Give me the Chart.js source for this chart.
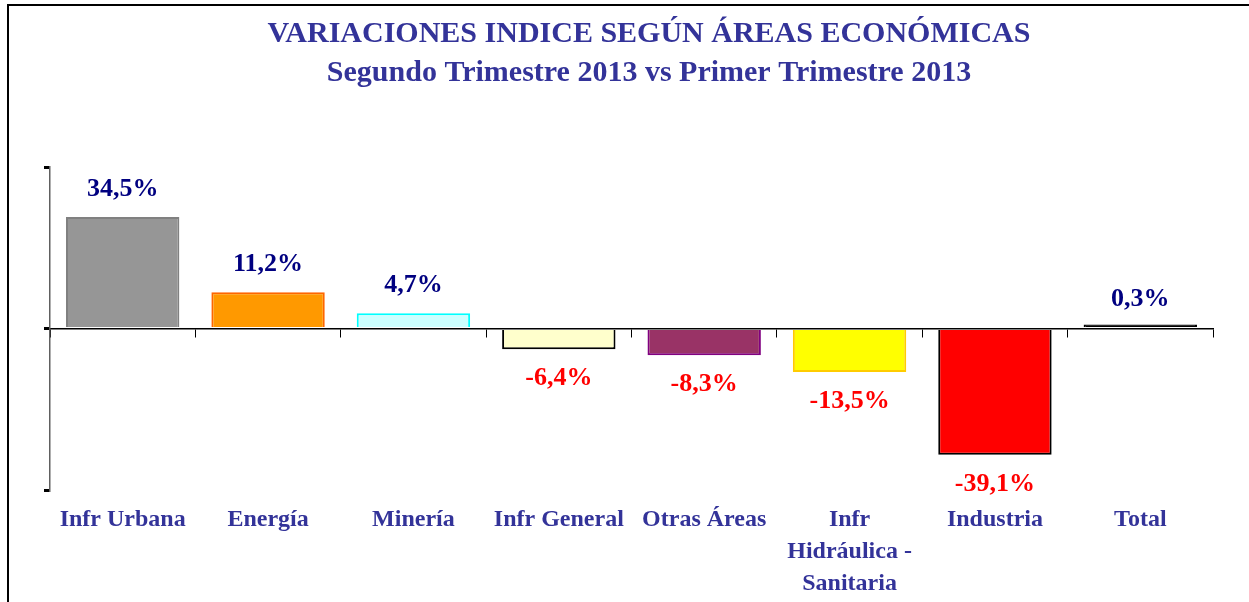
<!DOCTYPE html>
<html lang="es">
<head>
<meta charset="utf-8">
<title>Variaciones índice según áreas económicas</title>
<script src="https://cdn.jsdelivr.net/npm/chart.js@4/dist/chart.umd.min.js"></script>
<style>
  html, body { margin: 0; padding: 0; background: #fff; overflow: hidden; }
  #marco { position: absolute; left: 7px; top: 4px; width: 1400px; height: 800px;
           border-top: 2px solid #000; border-left: 2px solid #000; }
  #grafico { position: absolute; left: 0; top: 0; }
</style>
</head>
<body>
<div id="marco"></div>
<canvas id="grafico" width="1249" height="602"></canvas>
<script>
// datos del gráfico
const areas = ['Infr Urbana', 'Energía', 'Minería', 'Infr General', 'Otras Áreas',
               ['Infr', 'Hidráulica -', 'Sanitaria'], 'Industria', 'Total'];
const variaciones = [34.5, 11.2, 4.7, -6.4, -8.3, -13.5, -39.1, 0.3];
const rellenos = ['#969696', '#FF9900', '#CCFFFF', '#FFFFCC', '#993366', '#FFFF00', '#FF0000', '#000000'];
const bordes = ['#808080', '#FF6600', '#00FFFF', '#000000', '#800080', '#FFCC00', '#000000', '#000000'];
const marcasY = [-50, 0, 50];

const fuente = "'Liberation Serif', 'Times New Roman', serif";

// etiquetas de valor sobre / bajo cada barra
const etiquetasValor = {
    id: 'etiquetasValor',
    afterDatasetsDraw(chart) {
        const ctx = chart.ctx;
        const meta = chart.getDatasetMeta(0);
        const y0 = chart.scales.y.getPixelForValue(0);
        ctx.save();
        ctx.font = 'bold 26px ' + fuente;
        ctx.textAlign = 'center';
        ctx.textBaseline = 'middle';
        meta.data.forEach((barra, i) => {
            const v = variaciones[i];
            const txt = v.toFixed(1).replace('.', ',') + '%';
            const extremo = chart.scales.y.getPixelForValue(v);
            if (v >= 0) {
                ctx.fillStyle = '#000080';
                ctx.fillText(txt, barra.x, Math.min(extremo, y0) - 28);
            } else {
                ctx.fillStyle = '#FF0000';
                ctx.fillText(txt, barra.x, extremo + 29);
            }
        });
        ctx.restore();
    }
};

new Chart(document.getElementById('grafico'), {
    type: 'bar',
    data: {
        labels: areas,
        datasets: [{
            data: variaciones,
            backgroundColor: rellenos,
            borderColor: bordes,
            borderWidth: 2,
            minBarLength: 4,
            barPercentage: 0.78,
            categoryPercentage: 1
        }]
    },
    options: {
        responsive: false,
        animation: false,
        layout: { padding: { left: 49, right: 0, top: 0, bottom: 0 } },
        plugins: {
            legend: { display: false },
            tooltip: { enabled: false },
            title: {
                display: true,
                text: 'VARIACIONES INDICE SEGÚN ÁREAS ECONÓMICAS',
                color: '#333399',
                font: { family: fuente, size: 30, weight: 'bold' },
                padding: { top: 16, bottom: 3 }
            },
            subtitle: {
                display: true,
                text: 'Segundo Trimestre 2013 vs Primer Trimestre 2013',
                color: '#333399',
                font: { family: fuente, size: 30, weight: 'bold' },
                padding: { top: 0, bottom: 76 }
            }
        },
        scales: {
            x: {
                type: 'category',
                offset: true,
                grid: { display: false, offset: true },
                border: { display: false },
                ticks: {
                    color: '#333399',
                    font: { family: fuente, size: 24, weight: 'bold', lineHeight: 1.33 },
                    padding: 6,
                    maxRotation: 0,
                    autoSkip: false
                },
                afterFit: s => { s.height = 112; }
            },
            x2: {
                type: 'category',
                labels: areas,
                position: { y: 0 },
                offset: true,
                grid: { offset: true, drawOnChartArea: false, drawTicks: true, tickLength: 8, color: '#000', lineWidth: 1 },
                border: { display: true, color: '#000', width: 1.5 },
                ticks: { display: false }
            },
            y: {
                min: -50,
                max: 50,
                afterBuildTicks: s => { s.ticks = marcasY.map(v => ({ value: v })); },
                grid: { drawOnChartArea: false, drawTicks: true, tickLength: 6, color: '#000', lineWidth: 3 },
                border: { display: true, color: '#606060', width: 1.5 },
                ticks: { display: false },
                afterFit: s => { s.width = 1; }
            },
            // margen derecho vacío para que el título quede centrado como en el original
            yDer: {
                position: 'right',
                min: -50,
                max: 50,
                grid: { display: false },
                border: { display: false },
                ticks: { display: false },
                afterFit: s => { s.width = 36; }
            }
        }
    },
    plugins: [etiquetasValor]
});
</script>
</body>
</html>
